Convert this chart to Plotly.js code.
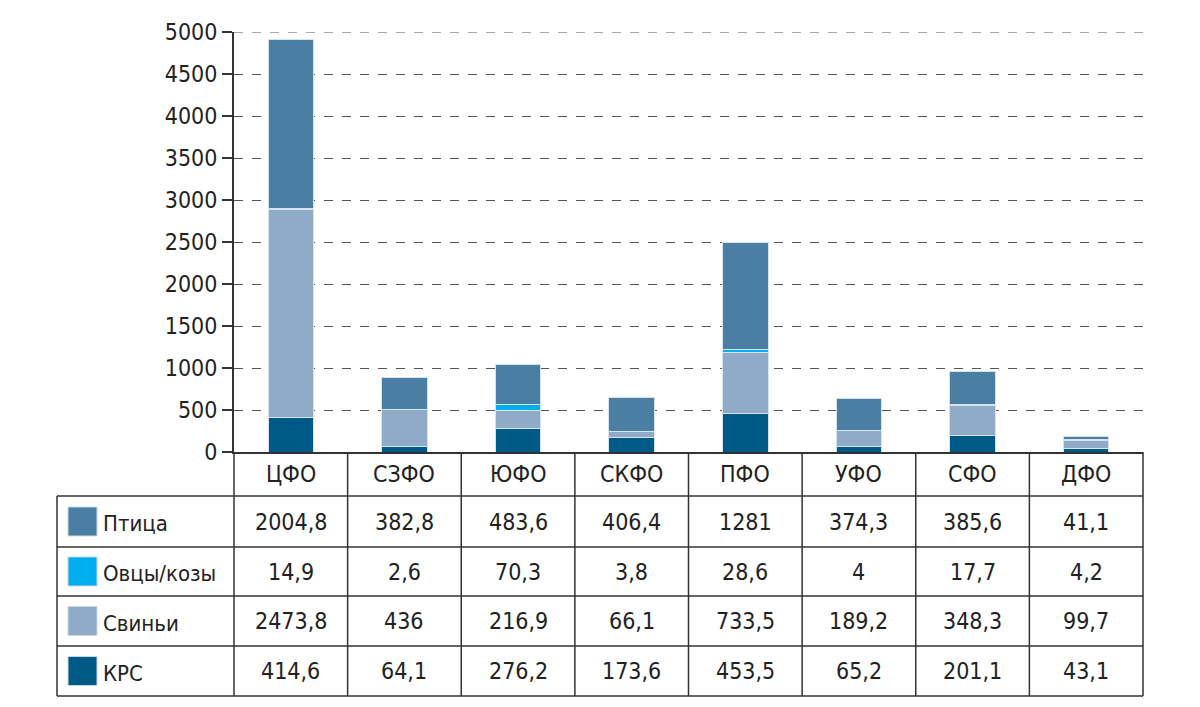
<!DOCTYPE html>
<html><head><meta charset="utf-8">
<script src="https://cdn.plot.ly/plotly-3.0.1.min.js"></script>
<style>html,body{margin:0;padding:0;background:#fff}#chart{width:1200px;height:707px}</style>
</head><body><div id="chart"></div>
<script>
const regions = ['ЦФО','СЗФО','ЮФО','СКФО','ПФО','УФО','СФО','ДФО'];
const ptitsa = [2004.8, 382.8, 483.6, 406.4, 1281, 374.3, 385.6, 41.1];
const ovtsy  = [14.9, 2.6, 70.3, 3.8, 28.6, 4, 17.7, 4.2];
const svini  = [2473.8, 436, 216.9, 66.1, 733.5, 189.2, 348.3, 99.7];
const krs    = [414.6, 64.1, 276.2, 173.6, 453.5, 65.2, 201.1, 43.1];
const seriesNames = ['Птица','Овцы/козы','Свиньи','КРС'];
const yTicks = [0,500,1000,1500,2000,2500,3000,3500,4000,4500,5000];

const colors = {'Птица':'#4a7ea3','Овцы/козы':'#00aeef','Свиньи':'#8fabc8','КРС':'#005a87'};
const rowsData = {'Птица':ptitsa,'Овцы/козы':ovtsy,'Свиньи':svini,'КРС':krs};
const FONT = '"DejaVu Sans Condensed","Liberation Sans Narrow",Roboto,sans-serif';

// stacking bottom -> top
const stackOrder = ['КРС','Свиньи','Овцы/козы','Птица'];
const traces = stackOrder.map(n => ({
  type:'bar', name:n, x:regions.map((r,i)=>i), y:rowsData[n],
  marker:{color:colors[n], line:{color:'#d6e4ef', width:1}},
  width:0.4, hoverinfo:'skip'
}));

const W=1200,H=707, L=234, R=1143, T=32, B=452;
const px = v => (v-L)/(R-L);
const py = v => (B-v)/(B-T);
const rowLines = [496,547,596,646,696];
const lineCol = '#333';
const shapes = [];
const annotations = [];
rowLines.forEach(y=>shapes.push({type:'line',xref:'paper',yref:'paper',x0:px(57),x1:px(R),y0:py(y),y1:py(y),line:{color:lineCol,width:1.5}}));
shapes.push({type:'line',xref:'paper',yref:'paper',x0:px(57),x1:px(57),y0:py(496),y1:py(696),line:{color:lineCol,width:1.5}});
for(let i=0;i<=regions.length;i++){
  const xp = L + i*(R-L)/regions.length;
  shapes.push({type:'line',xref:'paper',yref:'paper',x0:px(xp),x1:px(xp),y0:py(B),y1:py(696),line:{color:lineCol,width:1.5}});
}
// top gridline at 5000
shapes.push({type:'line',xref:'paper',yref:'y',x0:0,x1:1,y0:5000,y1:5000,line:{color:'#555',width:1,dash:'dash'}});
regions.forEach((r,i)=>{
  const xc = L + (i+0.5)*(R-L)/regions.length;
  annotations.push({xref:'paper',yref:'paper',x:px(xc),y:py(474),text:r,showarrow:false,xanchor:'center',yanchor:'middle',font:{family:FONT,size:23,color:'#222'}});
});
seriesNames.forEach((n,k)=>{
  const yTop = rowLines[k], yBot = rowLines[k+1], yc=(yTop+yBot)/2;
  shapes.push({type:'rect',xref:'paper',yref:'paper',x0:px(68),x1:px(97),y0:py(yc-14.5),y1:py(yc+14.5),fillcolor:colors[n],line:{color:'#c9d9e6',width:1}});
  annotations.push({xref:'paper',yref:'paper',x:px(101),y:py(yc+2),text:n,showarrow:false,xanchor:'left',yanchor:'middle',font:{family:FONT,size:22,color:'#222'}});
  rowsData[n].forEach((v,i)=>{
    const xc = L + (i+0.5)*(R-L)/regions.length;
    annotations.push({xref:'paper',yref:'paper',x:px(xc),y:py(yc),text:String(v).replace('.',','),showarrow:false,xanchor:'center',yanchor:'middle',font:{family:FONT,size:23,color:'#222'}});
  });
});

const layout = {
  width:W,height:H,
  margin:{l:L,r:W-R,t:T,b:H-B,pad:0},
  paper_bgcolor:'#fff',plot_bgcolor:'#fff',
  barmode:'stack',showlegend:false,
  xaxis:{range:[-0.5,regions.length-0.5],showticklabels:false,showgrid:false,zeroline:false,showline:true,linecolor:lineCol,linewidth:1.5,ticks:'',fixedrange:true},
  yaxis:{range:[0,5000],tickvals:yTicks,ticktext:yTicks.map(String),showgrid:true,gridcolor:'#555',griddash:'dash',gridwidth:1,
    zeroline:false,showline:true,linecolor:lineCol,linewidth:2,ticks:'outside',ticklen:10,tickwidth:1.5,tickcolor:lineCol,
    tickfont:{family:FONT,size:23,color:'#222'},fixedrange:true},
  shapes:shapes,annotations:annotations
};
Plotly.newPlot('chart',traces,layout,{displayModeBar:false,staticPlot:true});
</script></body></html>
